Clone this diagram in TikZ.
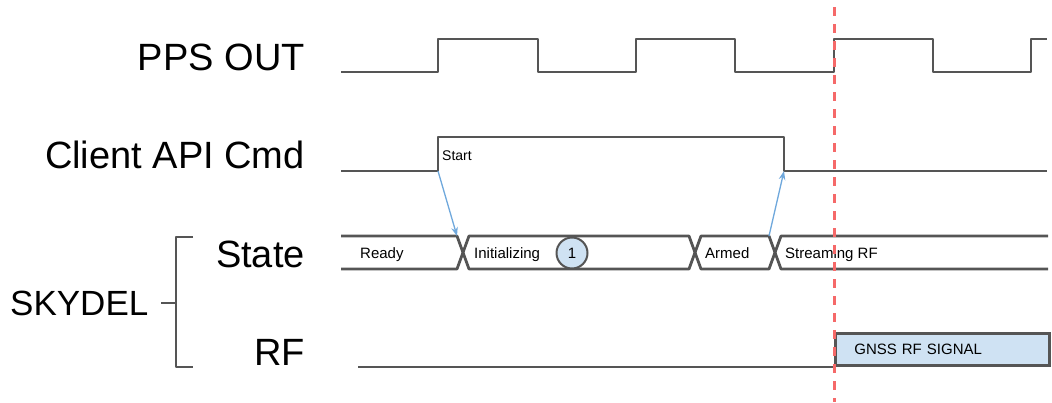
\documentclass[tikz,border=0pt]{standalone}
\usepackage{fontspec}
\setmainfont{Liberation Sans}
\usetikzlibrary{
	arrows.meta,
	positioning
}
\definecolor{sinal}{RGB}{85,85,85}
\definecolor{seta}{RGB}{111,168,220}
\definecolor{caixaazul}{RGB}{207,226,243}
\definecolor{marca}{RGB}{245,105,105}

\begin{document}
\begin{tikzpicture}[
			x=1pt, y=-1pt,
			nome/.style={anchor=base east, inner sep=0pt, font=\fontsize{38}{42}\selectfont},
			rotulo/.style={anchor=base west, inner sep=0pt, font=\fontsize{15}{17}\selectfont},
			sig/.style={draw=sinal, line width=2.8pt, line join=round},
			>=Stealth,
			fl/.style={->, draw=seta, line width=1.3pt}
		]

		\useasboundingbox (0,0) rectangle (1052,402);

		\node[nome] (pps) at (305,70) {PPS OUT};
		\node[nome] (cmd) at (305,168) {Client API Cmd};
		\node[nome] (state) at (305,267) {State};
		\node[nome] (rf) at (305,365) {RF};
		\node[nome, anchor=base west, font=\fontsize{35}{40}\selectfont] (skydel) at (10,315) {SKYDEL};

		\draw[sig] (193,237) -- (176,237) -- (176,367) -- (193,367);
		\draw[sig] (161,303) -- (176,303);

		\draw[sig] (341,72) -- (438,72) -- (438,39) -- (538,39) -- (538,72) -- (636,72) -- (636,39)
			-- (735,39) -- (735,72) -- (834,72) -- (834,39) -- (933,39) -- (933,72) -- (1031,72)
			-- (1031,39) -- (1047,39);

		\coordinate (subida) at (438,171);
		\coordinate (descida) at (784,171);
		\draw[sig] (341,171) -- (subida) -- (438,137) -- (784,137) -- (descida) -- (1047,171);
		\node[rotulo, font=\fontsize{14}{16}\selectfont] (start) at (442,160) {Start};

		\coordinate (xinit) at (457,236);
		\coordinate (xarmed) at (769,236);
		\draw[sig] (341,236) -- (xinit) -- (469,269) -- (689,269) -- (701,236) -- (xarmed) -- (781,269) -- (1048,269);
		\draw[sig] (341,269) -- (457,269) -- (469,236) -- (689,236) -- (701,269) -- (769,269) -- (781,236) -- (1048,236);

		\node[rotulo] (ready) at (360,258) {Ready};
		\node[rotulo] (init) at (474,258) {Initializing};
		\node[circle, draw=sinal, line width=2pt, fill=caixaazul, minimum size=31pt, inner sep=0pt,
			font=\fontsize{15}{17}\selectfont] (um) at (572,253) {1};
		\node[rotulo] (armed) at (705,258) {Armed};
		\node[rotulo] (stream) at (785,258) {Streaming RF};

		\draw[fl] (subida) -- (xinit);
		\draw[fl] (xarmed) -- (descida);

		\coordinate (rfini) at (358,367);
		\node[draw=sinal, line width=2.8pt, fill=caixaazul, anchor=south west, minimum height=32pt,
			text width=176pt, inner xsep=19pt, inner ysep=0pt, align=left,
			font=\fontsize{15}{17}\selectfont] (gnss) at (834,367) {GNSS RF SIGNAL};
		\draw[sig] (rfini) -- (gnss.south west);

		\coordinate (topo) at (834,7);
		\coordinate (base) at (834,402);
		\draw[marca, line width=3pt, dash pattern=on 9pt off 8pt] (topo) -- (base);
	\end{tikzpicture}
\end{document}
